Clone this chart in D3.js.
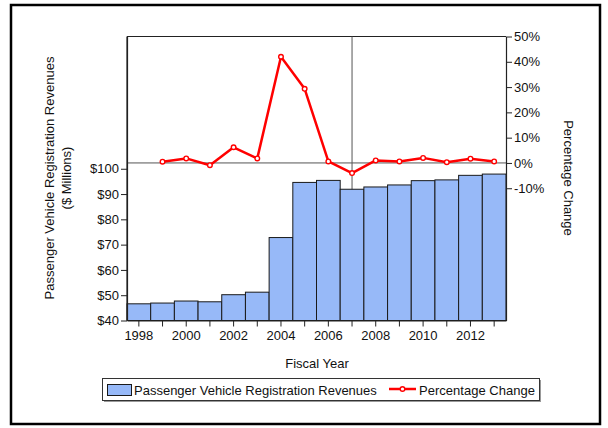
<!DOCTYPE html>
<html>
<head>
<meta charset="utf-8">
<script src="https://cdn.jsdelivr.net/npm/d3@7"></script>
<style>
  body { margin: 0; background: #fff; }
  svg text { font-family: "Liberation Sans", Arial, sans-serif; }
</style>
</head>
<body>
<svg id="chart" width="608" height="428"></svg>
<script>
// data
const years = [1998, 1999, 2000, 2001, 2002, 2003, 2004, 2005, 2006, 2007, 2008, 2009, 2010, 2011, 2012, 2013];
const revenues = [46.6, 46.9, 47.7, 47.4, 50.2, 51.2, 72.8, 94.6, 95.4, 91.9, 92.8, 93.6, 95.3, 95.6, 97.4, 97.9];
const pctYears = [1999, 2000, 2001, 2002, 2003, 2004, 2005, 2006, 2007, 2008, 2009, 2010, 2011, 2012, 2013];
const pctChange = [0.5, 1.8, -0.9, 6.2, 1.8, 42, 29.3, 0.6, -4, 1, 0.6, 2, 0.3, 1.7, 0.6];
const revenueTicks = [40, 50, 60, 70, 80, 90, 100];
const pctTicks = [-10, 0, 10, 20, 30, 40, 50];

const svg = d3.select("#chart");

// plot box
const plotLeft = 127, plotRight = 506, plotTop = 36.5, plotBottom = 320.5;

// outer border
svg.append("rect")
    .attr("x", 11)
    .attr("y", 5)
    .attr("width", 589)
    .attr("height", 419)
    .attr("fill", "none")
    .attr("stroke", "#000")
    .attr("stroke-width", 2.5);

const x = d3.scaleBand().domain(years).range([plotLeft, plotRight]).padding(0);
const yL = d3.scaleLinear().domain([40, 152.3]).range([plotBottom, plotTop]);
const yR = d3.scaleLinear().domain([-62.3, 50]).range([plotBottom, plotTop]);

// top frame line
svg.append("line")
    .attr("x1", plotLeft).attr("x2", plotRight)
    .attr("y1", plotTop).attr("y2", plotTop)
    .attr("stroke", "#222")
    .attr("stroke-width", 1);

// reference lines (0% and fiscal year 2007)
svg.append("line")
    .attr("x1", plotLeft).attr("x2", plotRight)
    .attr("y1", yR(0)).attr("y2", yR(0))
    .attr("stroke", "#555")
    .attr("stroke-width", 1);

svg.append("line")
    .attr("x1", x(2007) + x.bandwidth() / 2).attr("x2", x(2007) + x.bandwidth() / 2)
    .attr("y1", plotTop).attr("y2", plotBottom)
    .attr("stroke", "#555")
    .attr("stroke-width", 1);

// bars
svg.selectAll("rect.bar")
    .data(years)
    .enter()
    .append("rect")
    .attr("class", "bar")
    .attr("x", d => x(d))
    .attr("y", (d, i) => yL(revenues[i]))
    .attr("width", x.bandwidth())
    .attr("height", (d, i) => plotBottom - yL(revenues[i]))
    .attr("fill", "#97b9f8")
    .attr("stroke", "#1a1a1a")
    .attr("stroke-width", 1);

// axes
const axisFont = "13px";

const gLeft = svg.append("g")
    .attr("transform", `translate(${plotLeft},0)`)
    .call(d3.axisLeft(yL).tickValues(revenueTicks).tickSize(6).tickSizeOuter(0).tickFormat(d => "$" + d));

const gRight = svg.append("g")
    .attr("transform", `translate(${plotRight},0)`)
    .call(d3.axisRight(yR).tickValues(pctTicks).tickSize(6).tickSizeOuter(0).tickFormat(d => d + "%"));

const gBottom = svg.append("g")
    .attr("transform", `translate(0,${plotBottom})`)
    .call(d3.axisBottom(x).tickSize(6).tickSizeOuter(0).tickFormat(d => d % 2 === 0 ? d : ""));

[gLeft, gRight, gBottom].forEach(g => {
    g.select(".domain").attr("stroke", "#222").attr("stroke-width", 1.2);
    g.selectAll(".tick line").attr("stroke", "#222");
    g.selectAll("text")
        .attr("font-family", "Liberation Sans, Arial, sans-serif")
        .attr("font-size", axisFont)
        .attr("fill", "#111");
});
gLeft.selectAll("text").attr("x", -8);
gRight.selectAll("text").attr("x", 8);
gBottom.selectAll("text").attr("y", 10);

// the left axis line runs up to the frame
svg.append("line")
    .attr("x1", plotLeft).attr("x2", plotLeft)
    .attr("y1", plotTop).attr("y2", plotBottom)
    .attr("stroke", "#222").attr("stroke-width", 1.2);

// percentage change line
const line = d3.line()
    .x((d, i) => x(pctYears[i]) + x.bandwidth() / 2)
    .y(d => yR(d));

svg.append("path")
    .datum(pctChange)
    .attr("d", line)
    .attr("fill", "none")
    .attr("stroke", "#ff0000")
    .attr("stroke-width", 2.5)
    .attr("stroke-linejoin", "round");

svg.selectAll("circle.pt")
    .data(pctChange)
    .enter()
    .append("circle")
    .attr("class", "pt")
    .attr("cx", (d, i) => x(pctYears[i]) + x.bandwidth() / 2)
    .attr("cy", d => yR(d))
    .attr("r", 2.3)
    .attr("fill", "#fff")
    .attr("stroke", "#ff0000")
    .attr("stroke-width", 1.4);

// axis titles
svg.append("text")
    .attr("transform", "translate(54,178) rotate(-90)")
    .attr("text-anchor", "middle")
    .attr("font-size", "13px")
    .attr("fill", "#111")
    .text("Passenger Vehicle Registration Revenues");

svg.append("text")
    .attr("transform", "translate(71,178) rotate(-90)")
    .attr("text-anchor", "middle")
    .attr("font-size", "13px")
    .attr("fill", "#111")
    .text("($ Millions)");

svg.append("text")
    .attr("transform", "translate(564,178) rotate(90)")
    .attr("text-anchor", "middle")
    .attr("font-size", "13px")
    .attr("fill", "#111")
    .text("Percentage Change");

svg.append("text")
    .attr("x", 317)
    .attr("y", 368)
    .attr("text-anchor", "middle")
    .attr("font-size", "13px")
    .attr("fill", "#111")
    .text("Fiscal Year");

// legend
svg.append("rect")
    .attr("x", 104).attr("y", 380)
    .attr("width", 437).attr("height", 22)
    .attr("fill", "#999");
svg.append("rect")
    .attr("x", 102.5).attr("y", 378.5)
    .attr("width", 437).attr("height", 22)
    .attr("fill", "#fff")
    .attr("stroke", "#333")
    .attr("stroke-width", 1);

svg.append("rect")
    .attr("x", 107.5).attr("y", 384.5)
    .attr("width", 24).attr("height", 11)
    .attr("fill", "#97b9f8")
    .attr("stroke", "#1a1a1a");

svg.append("text")
    .attr("x", 134).attr("y", 394.5)
    .attr("font-size", "13px")
    .attr("fill", "#111")
    .text("Passenger Vehicle Registration Revenues");

svg.append("line")
    .attr("x1", 389).attr("x2", 416)
    .attr("y1", 389).attr("y2", 389)
    .attr("stroke", "#ff0000").attr("stroke-width", 2.5);
svg.append("circle")
    .attr("cx", 402.5).attr("cy", 389).attr("r", 2.3)
    .attr("fill", "#fff").attr("stroke", "#ff0000").attr("stroke-width", 1.4);

svg.append("text")
    .attr("x", 419).attr("y", 394.5)
    .attr("font-size", "13px")
    .attr("fill", "#111")
    .attr("textLength", 116)
    .text("Percentage Change");
</script>
</body>
</html>
